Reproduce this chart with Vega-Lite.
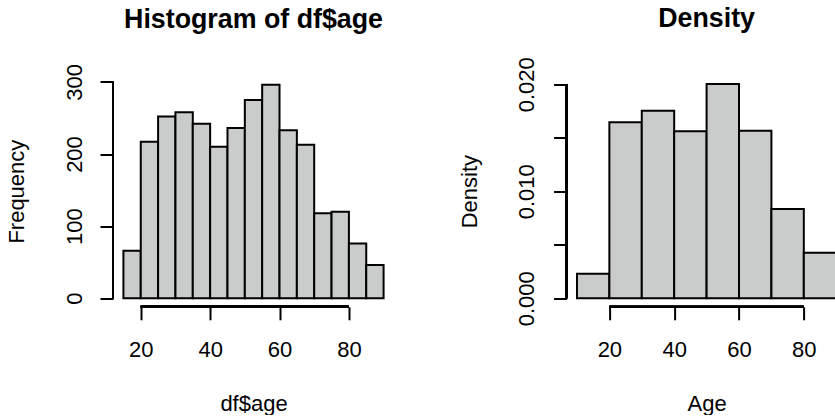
{
  "$schema": "https://vega.github.io/schema/vega-lite/v6.json",
  "autosize": {"type": "pad"},
  "padding": {"left": 5, "top": 5.5, "right": 0, "bottom": 0},
  "background": "white",
  "config": {
    "view": {"stroke": null},
    "font": "Liberation Sans",
    "axis": {
      "grid": false,
      "domain": false,
      "ticks": true,
      "tickSize": 13,
      "tickWidth": 2,
      "tickColor": "black",
      "labelFont": "Liberation Sans",
      "labelFontSize": 22,
      "labelColor": "black",
      "labelFlush": false,
      "labelOverlap": false,
      "titleFont": "Liberation Sans",
      "titleFontSize": 22,
      "titleFontWeight": "normal",
      "titleColor": "black"
    },
    "title": {
      "font": "Liberation Sans",
      "fontSize": 26.8,
      "fontWeight": "bold",
      "color": "black",
      "anchor": "middle",
      "frame": "group",
      "baseline": "alphabetic"
    }
  },
  "datasets": {
    "counts": [
      {"bin_start": 15, "bin_end": 20, "count": 66},
      {"bin_start": 20, "bin_end": 25, "count": 217},
      {"bin_start": 25, "bin_end": 30, "count": 252},
      {"bin_start": 30, "bin_end": 35, "count": 258},
      {"bin_start": 35, "bin_end": 40, "count": 242},
      {"bin_start": 40, "bin_end": 45, "count": 210},
      {"bin_start": 45, "bin_end": 50, "count": 236},
      {"bin_start": 50, "bin_end": 55, "count": 275},
      {"bin_start": 55, "bin_end": 60, "count": 296},
      {"bin_start": 60, "bin_end": 65, "count": 233},
      {"bin_start": 65, "bin_end": 70, "count": 213},
      {"bin_start": 70, "bin_end": 75, "count": 118},
      {"bin_start": 75, "bin_end": 80, "count": 120},
      {"bin_start": 80, "bin_end": 85, "count": 76},
      {"bin_start": 85, "bin_end": 90, "count": 46}
    ],
    "dens": [
      {"bin_start": 10, "bin_end": 20, "density": 0.00228},
      {"bin_start": 20, "bin_end": 30, "density": 0.01645},
      {"bin_start": 30, "bin_end": 40, "density": 0.01752},
      {"bin_start": 40, "bin_end": 50, "density": 0.0156},
      {"bin_start": 50, "bin_end": 60, "density": 0.02002},
      {"bin_start": 60, "bin_end": 70, "density": 0.01565},
      {"bin_start": 70, "bin_end": 80, "density": 0.00833},
      {"bin_start": 80, "bin_end": 90, "density": 0.00425}
    ]
  },
  "spacing": 172.6,
  "bounds": "flush",
  "hconcat": [
    {
      "width": 281,
      "height": 231.3,
      "title": {"text": "Histogram of df$age", "offset": 30},
      "data": {"name": "counts"},
      "layer": [
        {
          "mark": {"type": "bar", "fill": "#CACBCB", "stroke": "black", "strokeWidth": 2},
          "encoding": {
            "x": {
              "field": "bin_start", "type": "quantitative",
              "scale": {"domain": [12, 93], "nice": false, "zero": false},
              "axis": {
                "values": [20, 40, 60, 80], "format": "d",
                "labelPadding": 36.4, "labelBaseline": "alphabetic", "labelAlign": "center",
                "title": "df$age", "titleBaseline": "alphabetic", "titleY": 104
              }
            },
            "x2": {"field": "bin_end"},
            "y": {
              "field": "count", "type": "quantitative",
              "scale": {"domain": [-11.88, 308.88], "nice": false, "zero": false},
              "axis": {
                "values": [0, 50, 100, 150, 200, 250, 300], "format": "d",
                "labelExpr": "datum.value % 100 === 0 ? datum.label : ''",
                "labelAngle": -90, "labelAlign": "center", "labelBaseline": "alphabetic", "labelPadding": 19,
                "title": "Frequency", "titleAngle": -90, "titleBaseline": "alphabetic", "titleAlign": "center", "titleX": -89.5
              }
            },
            "y2": {"datum": 0}
          }
        },
        {
          "mark": {"type": "rule", "stroke": "black", "strokeWidth": 2},
          "encoding": {"x": {"datum": 20}, "x2": {"datum": 80}, "y": {"datum": -11.88}}
        },
        {
          "mark": {"type": "rule", "stroke": "black", "strokeWidth": 2},
          "encoding": {"x": {"datum": 12}, "y": {"datum": 0}, "y2": {"datum": 300}}
        }
      ]
    },
    {
      "width": 269.4,
      "height": 231.3,
      "title": {"text": "Density", "offset": 24, "dx": 5.3},
      "data": {"name": "dens"},
      "layer": [
        {
          "mark": {"type": "bar", "fill": "#CACBCB", "stroke": "black", "strokeWidth": 2, "clip": true},
          "encoding": {
            "x": {
              "field": "bin_start", "type": "quantitative",
              "scale": {"domain": [6.8, 89.93], "nice": false, "zero": false},
              "axis": {
                "values": [20, 40, 60, 80], "format": "d",
                "labelPadding": 36.4, "labelBaseline": "alphabetic", "labelAlign": "center",
                "title": "Age", "titleBaseline": "alphabetic", "titleY": 104, "titleX": 140, "titleAlign": "center"
              }
            },
            "x2": {"field": "bin_end"},
            "y": {
              "field": "density", "type": "quantitative",
              "scale": {"domain": [-0.000801, 0.020821], "nice": false, "zero": false},
              "axis": {
                "values": [0, 0.005, 0.01, 0.015, 0.02], "format": ".3f",
                "labelExpr": "round(datum.value * 1000) % 10 === 0 ? datum.label : ''",
                "labelAngle": -90, "labelAlign": "center", "labelBaseline": "alphabetic", "labelPadding": 20,
                "title": "Density", "titleAngle": -90, "titleBaseline": "alphabetic", "titleAlign": "center", "titleX": -90.5
              }
            },
            "y2": {"datum": 0}
          }
        },
        {
          "mark": {"type": "rule", "stroke": "black", "strokeWidth": 2},
          "encoding": {"x": {"datum": 20}, "x2": {"datum": 80}, "y": {"datum": -0.000801}}
        },
        {
          "mark": {"type": "rule", "stroke": "black", "strokeWidth": 2},
          "encoding": {"x": {"datum": 6.8}, "y": {"datum": 0}, "y2": {"datum": 0.02}}
        }
      ]
    }
  ]
}
